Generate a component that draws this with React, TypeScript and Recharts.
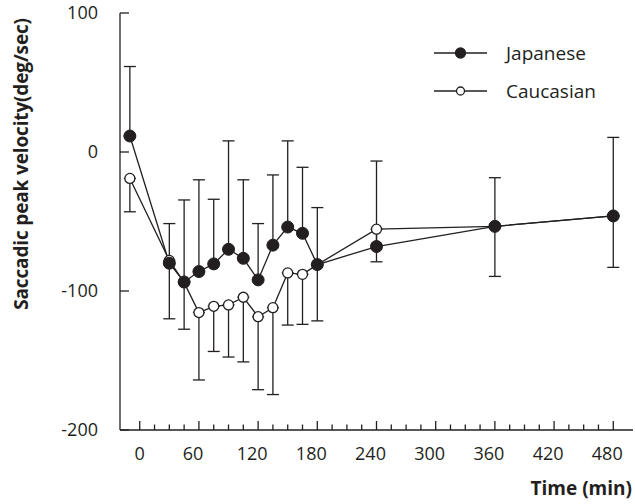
import React from 'react';
import { ComposedChart, Line, XAxis, YAxis, ErrorBar, Legend } from 'recharts';

// time after dosing (min)
const times = [-10, 30, 45, 60, 75, 90, 105, 120, 135, 150, 165, 180, 240, 360, 480];
const japanese = [11.5, -80, -93.5, -86, -80.5, -70, -76.5, -92, -67, -54, -58.5, -81, -68, -53.5, -46];
const caucasian = [-19, -78, -94, -115.5, -111, -110, -104.5, -118.5, -112, -87, -88, -81, -55.5, -53.5, -46];
// japanese bars go up, caucasian bars go down
const japaneseUpper = [61.5, -51.5, -34.5, -20, -34, 8, -20, -51.5, -16.5, 8, -11, -40, -6.5, -18.5, 10.5];
const caucasianLower = [-43, -120, -127.5, -164, -143.5, -147.5, -151, -171, -174.5, -124.5, -124, -121.5, -79, -89.5, -83];

const xTicks = [
  0, 15, 30, 45, 60, 75, 90, 105, 120, 135, 150, 165, 180, 195, 210, 225, 240,
  255, 270, 285, 300, 315, 330, 345, 360, 375, 390, 405, 420, 435, 450, 465, 480,
];
const xLabelTicks = [0, 60, 120, 180, 240, 300, 360, 420, 480];
const yTicks = [-200, -100, 0, 100];
const seriesOrder = ['Japanese', 'Caucasian'];

const INK = '#231f20';
const FONT = '"Open Sans", sans-serif';

const data = times.map((t, i) => ({
  time: t,
  japanese: japanese[i],
  caucasian: caucasian[i],
  japaneseErr: [0, japaneseUpper[i] - japanese[i]],
  caucasianErr: [caucasian[i] - caucasianLower[i], 0],
}));

const XTick = (props: any) => {
  const { x, y, payload } = props;
  const v = payload.value;
  const major = xLabelTicks.includes(v);
  return (
    <g>
      <line x1={x} y1={y} x2={x} y2={y - (major ? 9 : 5.5)} stroke={INK} strokeWidth={1.3} />
      {major && (
        <text
          x={x + (v === 0 ? 0 : -6)}
          y={y + 24}
          dy="0.35em"
          textAnchor="middle"
          fill={INK}
          fontSize={18}
          fontFamily={FONT}
        >
          {v}
        </text>
      )}
    </g>
  );
};

const YTick = (props: any) => {
  const { x, y, payload } = props;
  return (
    <g>
      <line x1={x} y1={y} x2={x + 9} y2={y} stroke={INK} strokeWidth={1.3} />
      <text x={x - 22} y={y} dy="0.35em" textAnchor="end" fill={INK} fontSize={18} fontFamily={FONT}>
        {payload.value}
      </text>
    </g>
  );
};

const YLabel = (props: any) => {
  const { viewBox } = props;
  const cx = 21;
  const cy = viewBox.y + viewBox.height * 0.362;
  return (
    <text
      x={cx}
      y={cy}
      transform={`rotate(-90, ${cx}, ${cy})`}
      textAnchor="middle"
      dy="0.35em"
      fill={INK}
      fontSize={19}
      fontWeight={700}
      fontFamily={FONT}
      letterSpacing={-0.15}
    >
      Saccadic peak velocity(deg/sec)
    </text>
  );
};

const XLabel = (props: any) => {
  const { viewBox } = props;
  return (
    <text
      x={viewBox.x + viewBox.width - 1}
      y={viewBox.y + 58}
      dy="0.35em"
      textAnchor="end"
      fill={INK}
      fontSize={19}
      fontWeight={700}
      fontFamily={FONT}
    >
      Time (min)
    </text>
  );
};

const LegendContent = (props: any) => {
  const items = (props.payload || [])
    .filter((p: any) => seriesOrder.includes(p.value))
    .sort((a: any, b: any) => seriesOrder.indexOf(a.value) - seriesOrder.indexOf(b.value));
  return (
    <div style={{ fontFamily: FONT }}>
      {items.map((item: any) => {
        const filled = item.value === 'Japanese';
        return (
          <div key={item.value} style={{ display: 'flex', alignItems: 'center', height: 38 }}>
            <svg width={56} height={14} style={{ marginRight: 18 }}>
              <line x1={2} y1={7} x2={55} y2={7} stroke={INK} strokeWidth={1.3} />
              <circle
                cx={28.5}
                cy={7}
                r={filled ? 5 : 4}
                fill={filled ? INK : '#fff'}
                stroke={INK}
                strokeWidth={1.3}
              />
            </svg>
            <span style={{ color: INK, fontSize: 19 }}>{item.value}</span>
          </div>
        );
      })}
    </div>
  );
};

export default function App() {
  return (
    <div style={{ position: 'absolute', left: 0, top: 0, width: 635, height: 504, background: '#fff' }}>
      <ComposedChart width={635} height={504} data={data} margin={{ top: 13, right: 2, bottom: 0, left: 0 }}>
        <XAxis
          type="number"
          dataKey="time"
          domain={[-20, 500]}
          ticks={xTicks}
          interval={0}
          tickLine={false}
          tickSize={0}
          tickMargin={0}
          height={74}
          axisLine={{ stroke: INK, strokeWidth: 1.3 }}
          tick={<XTick />}
          label={{ content: <XLabel /> }}
        />
        <YAxis
          type="number"
          domain={[-200, 100]}
          ticks={yTicks}
          interval={0}
          tickLine={false}
          tickSize={0}
          tickMargin={0}
          width={120}
          axisLine={{ stroke: INK, strokeWidth: 1.3 }}
          tick={<YTick />}
          label={{ content: <YLabel /> }}
        />
        <Legend
          layout="horizontal"
          verticalAlign="middle"
          align="center"
          content={<LegendContent />}
          wrapperStyle={{ top: 34, left: 432, width: 200 }}
        />
        {/* error bars on hidden lines so the markers sit on top */}
        <Line dataKey="caucasian" stroke="none" dot={false} activeDot={false} legendType="none" isAnimationActive={false}>
          <ErrorBar dataKey="caucasianErr" direction="y" width={6} stroke={INK} strokeWidth={1.3} isAnimationActive={false} />
        </Line>
        <Line dataKey="japanese" stroke="none" dot={false} activeDot={false} legendType="none" isAnimationActive={false}>
          <ErrorBar dataKey="japaneseErr" direction="y" width={6} stroke={INK} strokeWidth={1.3} isAnimationActive={false} />
        </Line>
        <Line
          dataKey="caucasian"
          name="Caucasian"
          stroke={INK}
          strokeWidth={1.3}
          dot={{ r: 5, fill: '#fff', stroke: INK, strokeWidth: 1.3 }}
          activeDot={false}
          isAnimationActive={false}
        />
        <Line
          dataKey="japanese"
          name="Japanese"
          stroke={INK}
          strokeWidth={1.3}
          dot={{ r: 6, fill: INK, stroke: INK, strokeWidth: 1 }}
          activeDot={false}
          isAnimationActive={false}
        />
      </ComposedChart>
    </div>
  );
}
